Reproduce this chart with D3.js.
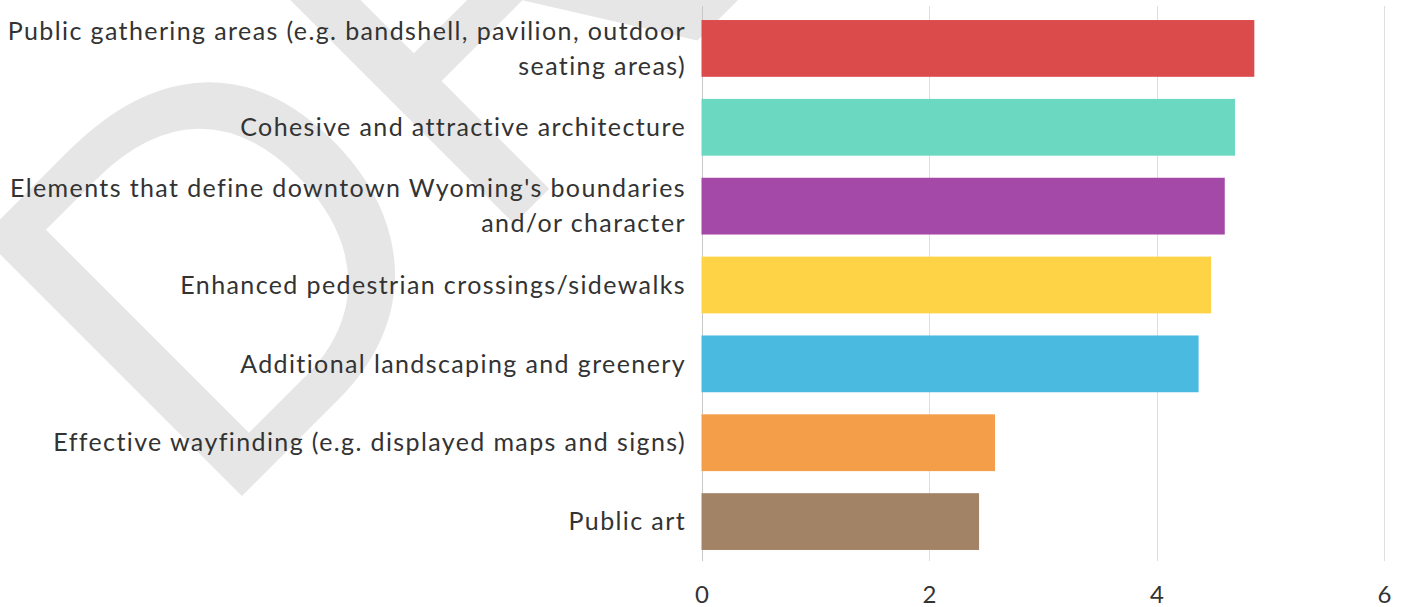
<!DOCTYPE html>
<html>
<head>
<meta charset="utf-8">
<script src="https://cdn.jsdelivr.net/npm/d3@7"></script>
<style>
  html, body { margin: 0; padding: 0; background: #ffffff; }
  svg { display: block; }
</style>
</head>
<body>
<svg id="chart" width="1401" height="607"></svg>
<script>
// Survey items, top to bottom
const categories = [
  "Public gathering areas (e.g. bandshell, pavilion, outdoor seating areas)",
  "Cohesive and attractive architecture",
  "Elements that define downtown Wyoming's boundaries and/or character",
  "Enhanced pedestrian crossings/sidewalks",
  "Additional landscaping and greenery",
  "Effective wayfinding (e.g. displayed maps and signs)",
  "Public art"
];

// Average score per item
const scores = [4.86, 4.69, 4.60, 4.48, 4.37, 2.58, 2.44];

// One colour per bar
const barColors = ["#dc4b4c", "#6bd8c1", "#a449a7", "#fed446", "#4abae1", "#f59e4a", "#a38366"];

// x-axis ticks
const xTicks = [0, 2, 4, 6];

const svg = d3.select("#chart");

// Light "DRAFT" watermark behind the chart
svg.append("text")
  .attr("transform", "translate(211,527) rotate(-45)")
  .attr("font-family", "Liberation Sans, Arial, sans-serif")
  .attr("font-size", 533)
  .attr("fill", "#e6e6e6")
  .text("DRAFT");

const x = d3.scaleLinear().domain([0, 6]).range([701.5, 1384]);
const y = d3.scaleBand().domain(categories).range([9, 561]).paddingInner(0.28).paddingOuter(0.14);

// Vertical gridlines
svg.append("g")
  .selectAll("line")
  .data(xTicks)
  .join("line")
  .attr("x1", d => Math.round(x(d)) + 0.5)
  .attr("x2", d => Math.round(x(d)) + 0.5)
  .attr("y1", 6)
  .attr("y2", 561)
  .attr("stroke", d => d === 0 ? "#c8c8c8" : "#dedede")
  .attr("stroke-width", 1);

// Bars
svg.append("g")
  .selectAll("rect")
  .data(categories)
  .join("rect")
  .attr("x", x(0))
  .attr("y", d => y(d))
  .attr("width", (d, i) => x(scores[i]) - x(0))
  .attr("height", y.bandwidth())
  .attr("fill", (d, i) => barColors[i]);

// Tick labels along the bottom
const xAxis = d3.axisBottom(x).tickValues(xTicks).tickSize(0).tickPadding(0).tickFormat(d3.format("d"));
const gx = svg.append("g").attr("transform", "translate(0,586)").call(xAxis);
gx.select(".domain").remove();
gx.selectAll("text")
  .attr("font-family", "Lato, sans-serif")
  .attr("font-size", 24)
  .attr("fill", "#333")
  .attr("dy", "0.71em");

// Category labels, right aligned and wrapped
const labelFont = 25, lineH = 35, labelRight = 686, maxW = 690;
const labels = svg.append("g")
  .attr("font-family", "Lato, sans-serif")
  .attr("font-size", labelFont)
  .attr("fill", "#333")
  .attr("text-anchor", "end");

// Open up the tracking a little so the face sets as wide as a geometric sans
const ref = labels.append("text").text("Public gathering areas (e.g. bandshell, pavilion, outdoor");
const natural = ref.node().getComputedTextLength();
const nChars = ref.text().length;
ref.remove();
const tracking = Math.max(0, (678 - natural) / nChars);
labels.attr("letter-spacing", tracking.toFixed(2));

function textWidth(s) {
  const p = labels.append("text").text(s);
  const w = p.node().getComputedTextLength();
  p.remove();
  return w;
}

categories.forEach(cat => {
  const words = cat.split(" ");
  const lines = [];
  let line = [];
  words.forEach(w => {
    const trial = line.concat(w).join(" ");
    if (line.length && textWidth(trial) > maxW) {
      lines.push(line.join(" "));
      line = [w];
    } else {
      line.push(w);
    }
  });
  lines.push(line.join(" "));
  const t = labels.append("text").attr("x", labelRight);
  const cy = y(cat) + y.bandwidth() / 2;
  lines.forEach((ln, k) => {
    t.append("tspan")
      .attr("x", labelRight)
      .attr("y", cy + (k - (lines.length - 1) / 2) * lineH)
      .attr("dy", "0.35em")
      .text(ln);
  });
});
</script>
</body>
</html>
